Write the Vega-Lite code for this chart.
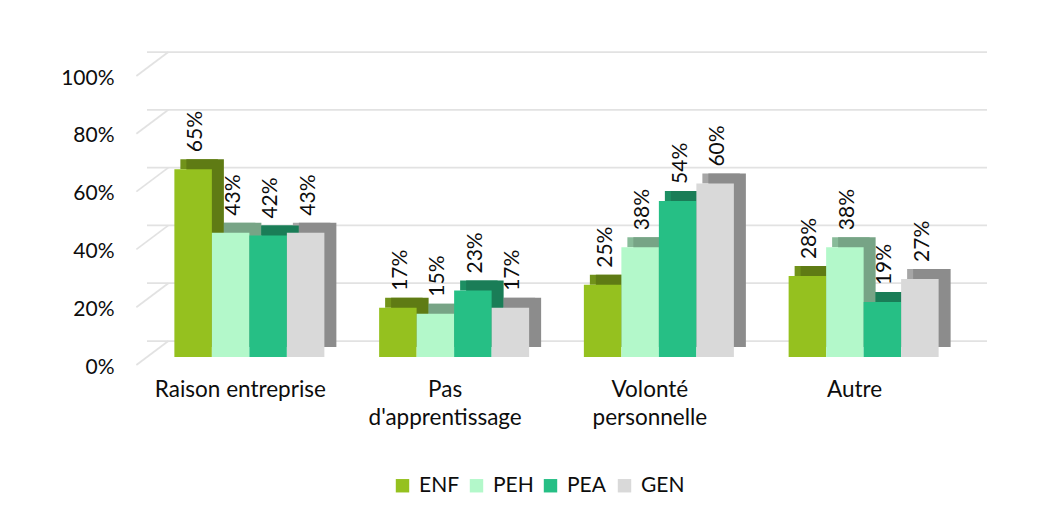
{
  "$schema": "https://vega.github.io/schema/vega-lite/v6.json",
  "width": 819,
  "height": 289,
  "autosize": {"type": "none"},
  "padding": {"left": 147, "top": 68, "right": 75, "bottom": 154},
  "background": "white",
  "config": {"view": {"stroke": null}, "font": "Lato"},
  "datasets": {
    "bars": [
      {"cat": "Raison entreprise", "series": "ENF", "v": 0.65},
      {"cat": "Raison entreprise", "series": "PEH", "v": 0.43},
      {"cat": "Raison entreprise", "series": "PEA", "v": 0.42},
      {"cat": "Raison entreprise", "series": "GEN", "v": 0.43},
      {"cat": "Pas d'apprentissage", "series": "ENF", "v": 0.17},
      {"cat": "Pas d'apprentissage", "series": "PEH", "v": 0.15},
      {"cat": "Pas d'apprentissage", "series": "PEA", "v": 0.23},
      {"cat": "Pas d'apprentissage", "series": "GEN", "v": 0.17},
      {"cat": "Volonté personnelle", "series": "ENF", "v": 0.25},
      {"cat": "Volonté personnelle", "series": "PEH", "v": 0.38},
      {"cat": "Volonté personnelle", "series": "PEA", "v": 0.54},
      {"cat": "Volonté personnelle", "series": "GEN", "v": 0.60},
      {"cat": "Autre", "series": "ENF", "v": 0.28},
      {"cat": "Autre", "series": "PEH", "v": 0.38},
      {"cat": "Autre", "series": "PEA", "v": 0.19},
      {"cat": "Autre", "series": "GEN", "v": 0.27}
    ],
    "grid": [{"v": 0}, {"v": 0.2}, {"v": 0.4}, {"v": 0.6}, {"v": 0.8}, {"v": 1}]
  },
  "layer": [
    {
      "data": {"name": "grid"},
      "mark": {"type": "rule", "color": "#E2E2E2", "strokeWidth": 1.75, "xOffset": 21, "x2Offset": 23, "yOffset": -16},
      "encoding": {
        "y": {"field": "v", "type": "quantitative", "scale": {"domain": [0, 1]}}
      }
    },
    {
      "data": {"name": "grid"},
      "mark": {"type": "rule", "color": "#E2E2E2", "strokeWidth": 1.75, "xOffset": -113, "x2Offset": -81, "yOffset": 8, "y2Offset": -16},
      "encoding": {
        "x": {"datum": "Raison entreprise", "type": "nominal"},
        "x2": {"datum": "Raison entreprise"},
        "y": {"field": "v", "type": "quantitative"},
        "y2": {"field": "v"}
      }
    },
    {
      "data": {"name": "bars"},
      "mark": {"type": "bar", "yOffset": -10, "y2Offset": 0},
      "encoding": {
        "x": {"field": "cat", "type": "nominal"},
        "xOffset": {"field": "series", "type": "nominal", "scale": {"domain": ["ENF", "PEH", "PEA", "GEN"], "paddingInner": 0, "paddingOuter": 0, "range": [6, 156]}},
        "y": {"field": "v", "type": "quantitative"},
        "y2": {"field": "v"},
        "color": {"field": "series", "type": "nominal", "scale": {"domain": ["ENF", "PEH", "PEA", "GEN"], "range": ["#71921A", "#88BB99", "#1D8F63", "#A6A6A6"]}, "legend": null}
      }
    },
    {
      "data": {"name": "bars"},
      "mark": {"type": "bar", "yOffset": -10, "y2Offset": -10},
      "encoding": {
        "x": {"field": "cat", "type": "nominal"},
        "xOffset": {"field": "series", "type": "nominal", "scale": {"domain": ["ENF", "PEH", "PEA", "GEN"], "paddingInner": 0, "paddingOuter": 0, "range": [12, 162]}},
        "y": {"field": "v", "type": "quantitative"},
        "color": {"field": "series", "type": "nominal", "scale": {"domain": ["ENF", "PEH", "PEA", "GEN"], "range": ["#5F7B14", "#77A486", "#1A7D57", "#8C8C8C"]}, "legend": null}
      }
    },
    {
      "data": {"name": "bars"},
      "mark": {"type": "bar"},
      "encoding": {
        "x": {
          "field": "cat", "type": "nominal",
          "scale": {"domain": ["Raison entreprise", "Pas d'apprentissage", "Volonté personnelle", "Autre"], "paddingInner": 0.2674, "paddingOuter": 0.1337},
          "axis": {
            "title": null, "labelAngle": 0, "labelAlign": "center", "domain": false, "ticks": false, "tickSize": 0,
            "labelPadding": 21, "labelOffset": -9, "labelFontSize": 22.5, "labelColor": "#0d0d0d",
            "labelLineHeight": 28, "labelBaseline": "top",
            "labelExpr": "datum.label == 'Raison entreprise' || datum.label == 'Autre' ? datum.label : split(datum.label, ' ')"
          }
        },
        "xOffset": {"field": "series", "type": "nominal", "scale": {"domain": ["ENF", "PEH", "PEA", "GEN"], "paddingInner": 0, "paddingOuter": 0, "range": [0, 150]}},
        "y": {
          "field": "v", "type": "quantitative",
          "scale": {"domain": [0, 1]},
          "axis": {
            "title": null, "format": ".0%", "values": [0, 0.2, 0.4, 0.6, 0.8, 1],
            "grid": false, "domain": false, "ticks": false, "tickSize": 0,
            "labelPadding": 33, "labelOffset": 10, "labelFontSize": 21, "labelColor": "#0d0d0d"
          }
        },
        "color": {
          "field": "series", "type": "nominal",
          "scale": {"domain": ["ENF", "PEH", "PEA", "GEN"], "range": ["#95C11F", "#B3F8CA", "#26BF85", "#D9D9D9"]},
          "legend": {
            "title": null, "orient": "none", "legendX": 245, "legendY": 407, "direction": "horizontal",
            "symbolType": "square", "symbolSize": 180, "symbolStrokeWidth": 0,
            "labelFontSize": 21, "labelColor": "#0d0d0d", "labelOffset": 6,
            "columnPadding": 3, "gridAlign": "all", "padding": 0
          }
        }
      }
    },
    {
      "data": {"name": "bars"},
      "mark": {"type": "text", "angle": 270, "align": "left", "baseline": "middle", "dx": 17, "dy": 3, "fontSize": 21, "color": "#0d0d0d"},
      "encoding": {
        "x": {"field": "cat", "type": "nominal"},
        "xOffset": {"field": "series", "type": "nominal", "scale": {"domain": ["ENF", "PEH", "PEA", "GEN"], "padding": 0, "range": [18.75, 131.25]}},
        "y": {"field": "v", "type": "quantitative"},
        "text": {"field": "v", "type": "quantitative", "format": ".0%"}
      }
    }
  ],
  "resolve": {"scale": {"color": "independent", "xOffset": "independent"}}
}
